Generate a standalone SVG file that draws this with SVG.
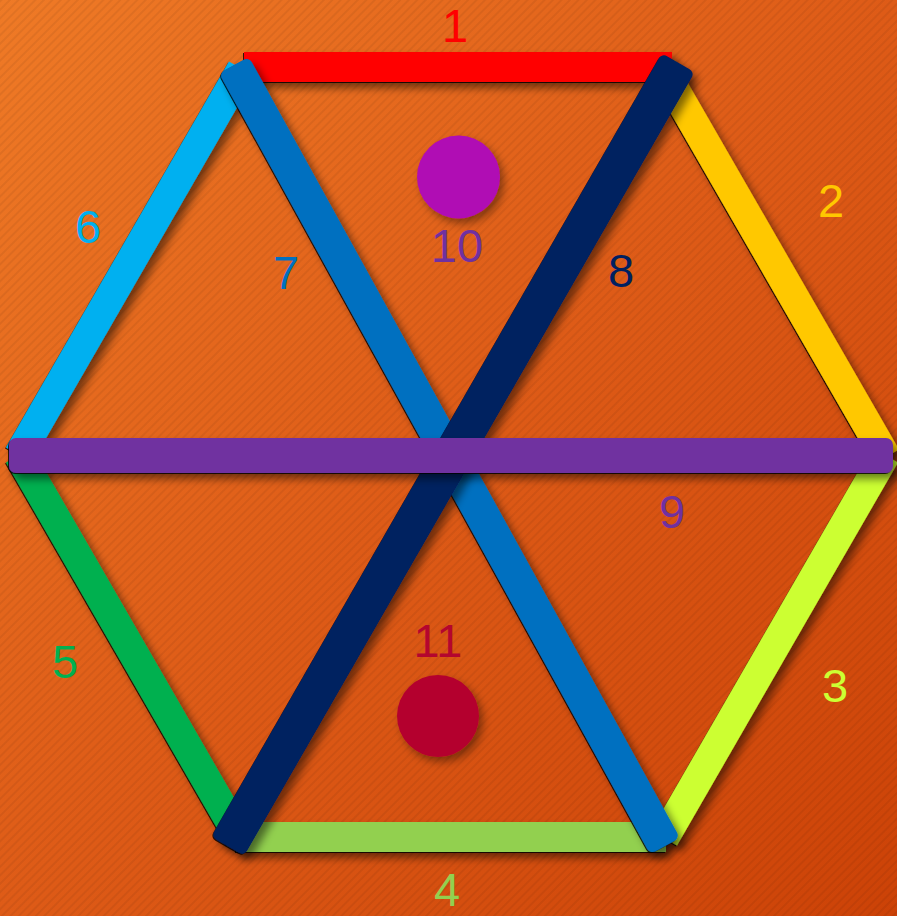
<svg xmlns="http://www.w3.org/2000/svg" width="897" height="916" viewBox="0 0 897 916">
<defs>
<linearGradient id="bg" x1="0" y1="0" x2="1" y2="1">
<stop offset="0" stop-color="#EF7A26"/>
<stop offset="0.5" stop-color="#DE5B17"/>
<stop offset="1" stop-color="#CC4207"/>
</linearGradient>
<pattern id="stripes" width="6" height="6" patternUnits="userSpaceOnUse" patternTransform="rotate(-45)">
<rect x="0" y="0" width="6" height="2" fill="#000" fill-opacity="0.06"/>
</pattern>
<filter id="sh" filterUnits="userSpaceOnUse" x="-20" y="-20" width="940" height="960">
<feGaussianBlur in="SourceAlpha" stdDeviation="4.5" result="b"/>
<feOffset in="b" dx="5" dy="6" result="bo"/>
<feComponentTransfer in="bo" result="soft"><feFuncA type="linear" slope="0.5"/></feComponentTransfer>
<feOffset in="SourceAlpha" dx="-1.2" dy="1.2" result="hard0"/>
<feComponentTransfer in="hard0" result="hard"><feFuncA type="linear" slope="0.8"/></feComponentTransfer>
<feMerge><feMergeNode in="soft"/><feMergeNode in="hard"/><feMergeNode in="SourceGraphic"/></feMerge>
</filter>
<filter id="shc" filterUnits="userSpaceOnUse" x="-20" y="-20" width="940" height="960">
<feDropShadow dx="4" dy="5" stdDeviation="4" flood-color="#000" flood-opacity="0.4"/>
</filter>
</defs>
<style>
.bar{fill:none;stroke-width:30;stroke-linecap:butt;filter:url(#sh)}
.lbl{font-family:"Liberation Sans",Arial,sans-serif;font-size:47px;text-anchor:middle}
</style>
<rect width="897" height="916" fill="url(#bg)"/>
<rect width="897" height="916" fill="url(#stripes)"/>
<g id="connectors">
<g id="bar6"><line class="bar" x1="19" y1="455" x2="242" y2="69" stroke="#00B0F0"/></g>
<g id="bar2"><line class="bar" x1="662" y1="68" x2="886" y2="457" stroke="#FFC800"/></g>
<g id="bar3"><line class="bar" x1="885" y1="455" x2="664" y2="838" stroke="#CCFF33"/></g>
<g id="bar5"><line class="bar" x1="19" y1="455" x2="240" y2="838" stroke="#00B050"/></g>
<g id="bar4"><line class="bar" x1="236" y1="837" x2="666" y2="837" stroke="#92D050"/></g>
<g id="bar1"><line class="bar" x1="244" y1="67" x2="672" y2="67" stroke="#FF0000"/></g>
<g id="bar7" filter="url(#sh)"><rect x="-446" y="-17" width="892" height="34" rx="6" fill="#0070C0" transform="translate(449.5 455.5) rotate(61.1)"/></g>
<g id="bar8" filter="url(#sh)"><rect x="-452" y="-19" width="904" height="38" rx="6" fill="#002060" transform="translate(453 454.5) rotate(119.9)"/></g>
<g id="bar9"><rect x="9" y="438" width="884" height="35" rx="7" fill="#7030A0" filter="url(#sh)"/></g>
</g>
<g id="node10"><circle cx="458.5" cy="177" r="41.5" fill="#B00AB4" filter="url(#shc)"/></g>
<g id="node11"><circle cx="438" cy="716" r="41" fill="#B4062E" filter="url(#shc)"/></g>
<g id="labels">
<text class="lbl" x="455" y="42" fill="#FF0000">1</text>
<text class="lbl" x="831" y="217" fill="#FFC800">2</text>
<text class="lbl" x="835" y="702" fill="#CCFF33">3</text>
<text class="lbl" x="447" y="906" fill="#92D050">4</text>
<text class="lbl" x="65" y="678" fill="#00B050">5</text>
<text class="lbl" x="88" y="243" fill="#00B0F0">6</text>
<text class="lbl" x="286" y="289" fill="#0070C0">7</text>
<text class="lbl" x="621" y="287" fill="#002060">8</text>
<text class="lbl" x="672" y="528" fill="#7030A0">9</text>
<text class="lbl" x="457" y="262" fill="#7030A0">10</text>
<text class="lbl" x="438" y="657" fill="#B4062E">11</text>
</g>
</svg>
